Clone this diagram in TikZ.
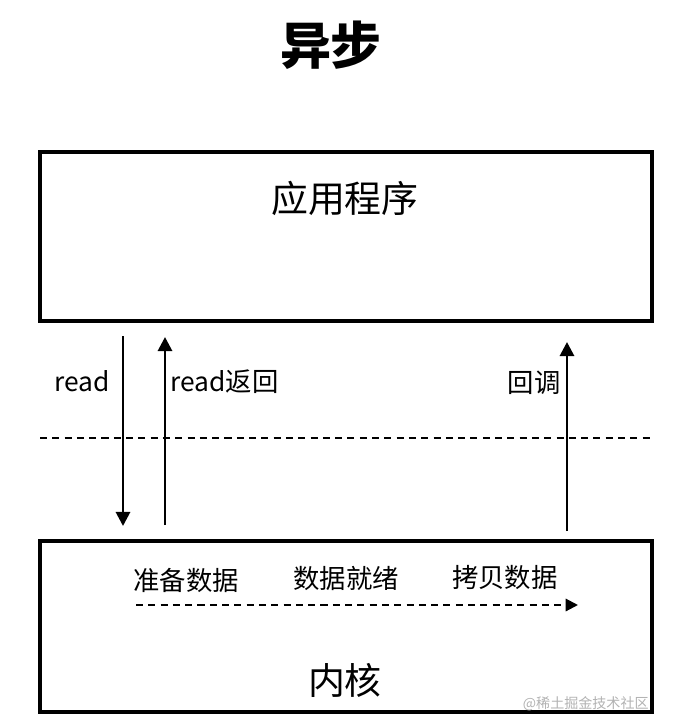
\documentclass[tikz,border=0pt]{standalone}
\usepackage{fontspec}
\setmainfont{Noto Sans CJK SC}
\usetikzlibrary{arrows.meta}

\begin{document}
\begin{tikzpicture}[x=0.02cm, y=-0.02cm,
                box/.style = {draw, line width=1.8pt},
                flow/.style = {line width=1.6pt, -{Triangle[length=8pt,width=8pt]}},
                lbl/.style = {font=\fontsize{15}{18}\selectfont, inner sep=0pt}]
                \useasboundingbox (0,0) rectangle (675,725);

                % Titre
                \node[font=\fontsize{29}{32}\selectfont\bfseries] (titre) at (331,45) {异步};

                % Boîtes
                \draw[box] (40,152) rectangle (652,321);
                \draw[box] (40,541) rectangle (652,712);
                \node[font=\fontsize{21}{24}\selectfont] (app) at (345,198) {应用程序};
                \node[font=\fontsize{21}{24}\selectfont] (noyau) at (345,680) {内核};

                % Extrémités
                \coordinate (r1) at (123,336);
                \coordinate (r2) at (123,526);
                \coordinate (b1) at (165,525);
                \coordinate (b2) at (165,337);
                \coordinate (c1) at (567,531);
                \coordinate (c2) at (567,342);
                \coordinate (g) at (40,438);
                \coordinate (d) at (652,438);
                \coordinate (p1) at (136,605);
                \coordinate (p2) at (578,605);

                % Flèches
                \draw[flow] (r1) -- (r2);
                \draw[flow] (b1) -- (b2);
                \draw[flow] (c1) -- (c2);
                \draw[line width=1.2pt, dash pattern=on 4pt off 3pt] (g) -- (d);
                \draw[line width=1.2pt, dash pattern=on 4pt off 3pt, -{Triangle[length=7pt,width=7pt]}] (p1) -- (p2);

                % Étiquettes
                \node[lbl] (lread) at (82,381) {read};
                \node[lbl, anchor=west] (lretour) at (170,382) {read返回};
                \node[lbl, anchor=east] (lrappel) at (561,383) {回调};
                \node[lbl] (e1) at (186,580) {准备数据};
                \node[lbl] (e2) at (346,578) {数据就绪};
                \node[lbl] (e3) at (505,578) {拷贝数据};
                \node[font=\fontsize{8}{9}\selectfont, text=black!30, anchor=east, inner sep=0pt] (marque) at (649,704) {@稀土掘金技术社区};
                \end{tikzpicture}
\end{document}
